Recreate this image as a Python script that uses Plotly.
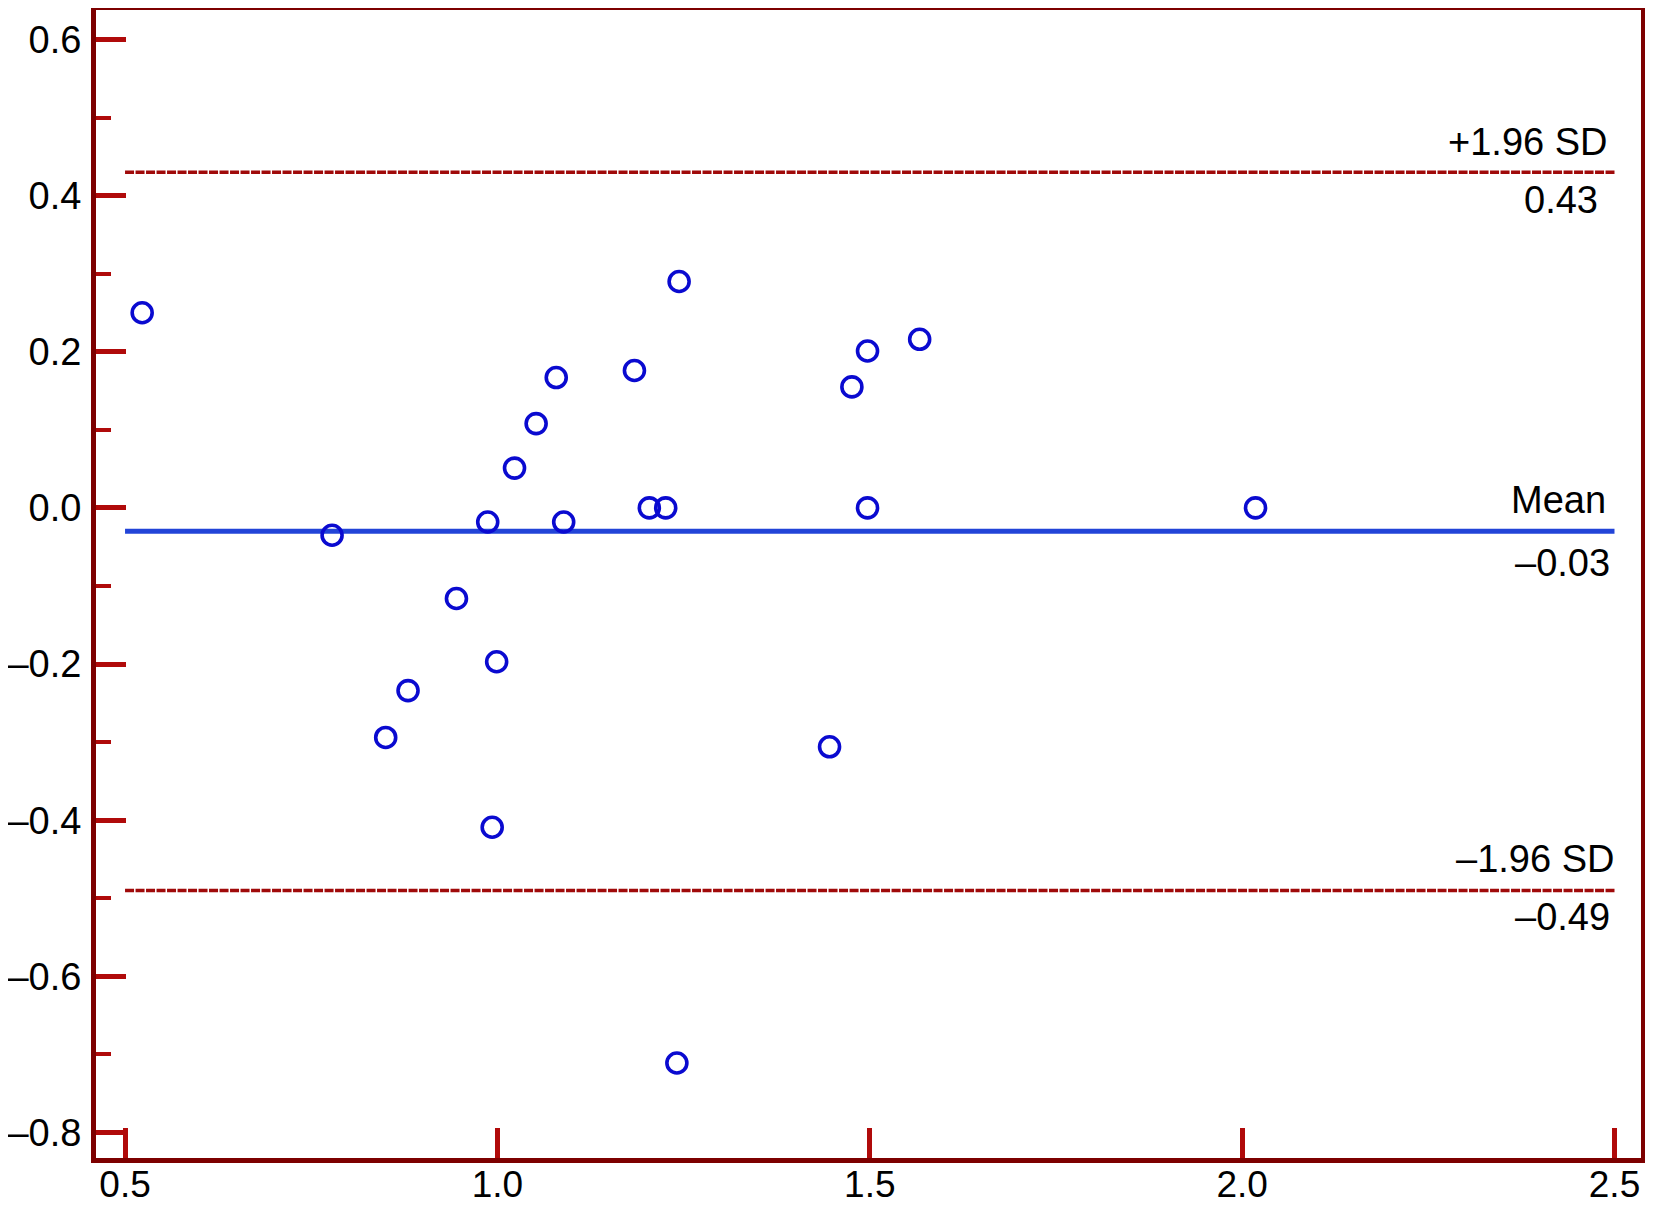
import plotly.graph_objects as go

# Data
avg_values = [0.523, 0.778, 0.850, 0.880, 0.945, 0.987, 0.993, 0.999, 1.023, 1.052,
              1.079, 1.089, 1.184, 1.204, 1.226, 1.244, 1.241, 1.446, 1.476, 1.497,
              1.497, 1.567, 2.018]
diff_values = [0.250, -0.035, -0.294, -0.234, -0.116, -0.018, -0.409, -0.197, 0.051, 0.108,
               0.167, -0.018, 0.176, 0.0, 0.0, 0.290, -0.711, -0.306, 0.155, 0.201,
               0.0, 0.216, 0.0]

mean_diff = -0.03
upper_loa = 0.43
lower_loa = -0.49
line_x = [0.5, 2.5]

x_tickvals = [0.5, 1.0, 1.5, 2.0, 2.5]
x_ticktext = ["0.5", "1.0", "1.5", "2.0", "2.5"]
y_tickvals = [0.6, 0.4, 0.2, 0.0, -0.2, -0.4, -0.6, -0.8]
y_ticktext = ["0.6", "0.4", "0.2", "0.0", "–0.2", "–0.4", "–0.6", "–0.8"]
y_minorvals = [0.5, 0.3, 0.1, -0.1, -0.3, -0.5, -0.7]

FONT = "Liberation Sans, Arial, Helvetica, sans-serif"
FRAME = "#7d0000"
TICK = "#b00a0a"
FS = 38

fig = go.Figure()

for yv in (upper_loa, lower_loa):
    fig.add_trace(go.Scatter(x=line_x, y=[yv, yv], mode="lines",
                             line=dict(color="#a00a0a", width=3.5, dash="9px,1.5px"),
                             hoverinfo="skip", showlegend=False))
fig.add_trace(go.Scatter(x=line_x, y=[mean_diff, mean_diff], mode="lines",
                         line=dict(color="#2244d8", width=5),
                         hoverinfo="skip", showlegend=False))

fig.add_trace(go.Scatter(x=avg_values, y=diff_values, mode="markers",
                         marker=dict(symbol="circle-open", size=20,
                                     color="#0a0ad0", line=dict(width=3.6, color="#0a0ad0")),
                         showlegend=False))

labels = [
    ("+1.96 SD", upper_loa, 30, -4),
    ("0.43", upper_loa, -28, -14),
    ("Mean", mean_diff, 31, -6),
    ("–0.03", mean_diff, -32, -2),
    ("–1.96 SD", lower_loa, 31, 2),
    ("–0.49", lower_loa, -27, -2),
]
for text, yv, ys, xs in labels:
    fig.add_annotation(x=2.5, y=yv, text=text, showarrow=False,
                       xanchor="right", yanchor="middle", xshift=xs, yshift=ys,
                       font=dict(family=FONT, size=FS, color="black"))

# page body has an 8px margin, so the figure is sized to fit the window
fig.update_layout(
    width=1637, height=1199,
    margin=dict(l=88, r=4, t=2, b=49),
    paper_bgcolor="white", plot_bgcolor="white",
    font=dict(family=FONT, size=FS, color="black"),
)

fig.update_xaxes(range=[0.461, 2.5356], showgrid=False, zeroline=False, automargin=False,
                 showline=True, linecolor=FRAME, linewidth=5, mirror=True,
                 ticks="inside", ticklen=30, tickwidth=5, tickcolor=TICK,
                 tickvals=x_tickvals, ticktext=x_ticktext,
                 tickfont=dict(family=FONT, size=37, color="black"),
                 ticklabelstandoff=-10)
fig.update_yaxes(range=[-0.8327, 0.6378], showgrid=False, zeroline=False, automargin=False,
                 showline=True, linecolor=FRAME, linewidth=5, mirror=True,
                 ticks="inside", ticklen=30, tickwidth=5, tickcolor=TICK,
                 tickvals=y_tickvals, ticktext=y_ticktext,
                 minor=dict(ticks="inside", ticklen=15, tickwidth=4, tickcolor=TICK,
                            tickvals=y_minorvals),
                 tickfont=dict(family=FONT, size=FS, color="black"),
                 ticklabelstandoff=2)

fig.write_html("out.html")
